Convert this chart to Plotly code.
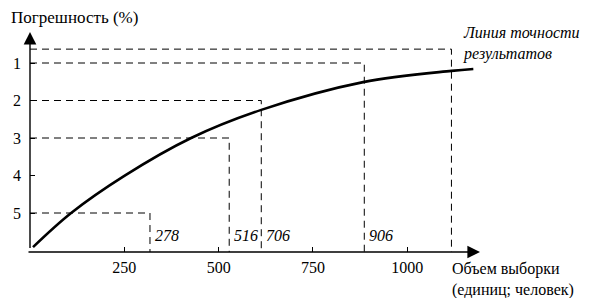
import plotly.graph_objects as go

# ---- data ----
curve_x = [8, 109, 250, 427, 613, 883, 1117, 1175]
curve_y = [5.91, 5.0, 4.01, 3.0, 2.25, 1.51, 1.21, 1.16]

guide_levels = [0.63, 1, 2, 3, 5]
guide_x = [1117, 886, 613, 528, 318]

value_labels = ["", "906", "706", "516", "278"]

x_tickvals = [250, 500, 750, 1000]
x_ticktext = ["250", "500", "750", "1000"]
y_tickvals = [1, 2, 3, 4, 5]
y_ticktext = ["1", "2", "3", "4", "5"]

# ---- layout constants ----
W, H = 595, 298
L, R, T, B = 30, 115, 32, 46
k = 0.3773
x_max = (W - L - R) / k
y_bottom, y_top = 6.04, 0.173
serif = "Liberation Serif"

fig = go.Figure()

for lvl, gx in zip(guide_levels, guide_x):
    fig.add_trace(go.Scatter(
        x=[0, gx, gx], y=[lvl, lvl, y_bottom], mode="lines",
        line=dict(color="black", width=1, dash="7px,5px"),
        hoverinfo="skip", showlegend=False, cliponaxis=False))

fig.add_trace(go.Scatter(
    x=curve_x, y=curve_y, mode="lines",
    line=dict(color="black", width=2.6, shape="spline", smoothing=1.0),
    hoverinfo="skip", showlegend=False))

annotations = []
for lab, gx in zip(value_labels, guide_x):
    if lab:
        annotations.append(dict(
            x=gx, y=5.61, xref="x", yref="y", text="<i>" + lab + "</i>",
            showarrow=False, xanchor="left", yanchor="middle", xshift=3,
            font=dict(family=serif, size=16, color="black")))

annotations.append(dict(x=0, y=1, xref="x", yref="paper", ax=0, ay=226,
                        axref="pixel", ayref="pixel", text=" ", showarrow=True,
                        arrowhead=2, arrowsize=1.8, arrowwidth=1.4,
                        arrowcolor="black"))
annotations.append(dict(x=1, y=0, xref="paper", yref="paper", ax=-455, ay=0,
                        axref="pixel", ayref="pixel", text=" ", showarrow=True,
                        arrowhead=2, arrowsize=1.8, arrowwidth=1.4,
                        arrowcolor="black"))

def px2paper_x(px):
    return (px - L) / (W - L - R)

def py2paper_y(py):
    return (H - B - py) / (H - T - B)

annotations += [
    dict(x=px2paper_x(9), y=py2paper_y(18), xref="paper", yref="paper",
         text="Погрешность (%)", showarrow=False, xanchor="left",
         yanchor="middle", font=dict(family=serif, size=17, color="black")),
    dict(x=px2paper_x(461), y=py2paper_y(43), xref="paper", yref="paper",
         text="<i>Линия точности</i><br><i>результатов</i>", showarrow=False,
         xanchor="left", yanchor="middle", align="left",
         font=dict(family=serif, size=16, color="black")),
    dict(x=px2paper_x(450), y=py2paper_y(279), xref="paper", yref="paper",
         text="Объем выборки<br>(единиц; человек)", showarrow=False,
         xanchor="left", yanchor="middle", align="left",
         font=dict(family=serif, size=16, color="black")),
]

fig.update_layout(
    width=W, height=H,
    margin=dict(l=L, r=R, t=T, b=B, pad=0),
    paper_bgcolor="white", plot_bgcolor="white",
    font=dict(family=serif, size=16, color="black"),
    annotations=annotations,
    xaxis=dict(range=[0, x_max], showgrid=False, zeroline=False,
               showline=False, tickmode="array", tickvals=x_tickvals,
               ticktext=x_ticktext, ticks="inside", ticklen=5, tickwidth=1.2,
               tickcolor="black", ticklabelstandoff=4,
               tickfont=dict(family=serif, size=16, color="black")),
    yaxis=dict(range=[y_bottom, y_top], showgrid=False, zeroline=False,
               showline=False, tickmode="array", tickvals=y_tickvals,
               ticktext=y_ticktext, ticks="inside", ticklen=5, tickwidth=1.2,
               tickcolor="black", ticklabelstandoff=8,
               tickfont=dict(family=serif, size=16, color="black")),
)

fig.write_html("out.html")
